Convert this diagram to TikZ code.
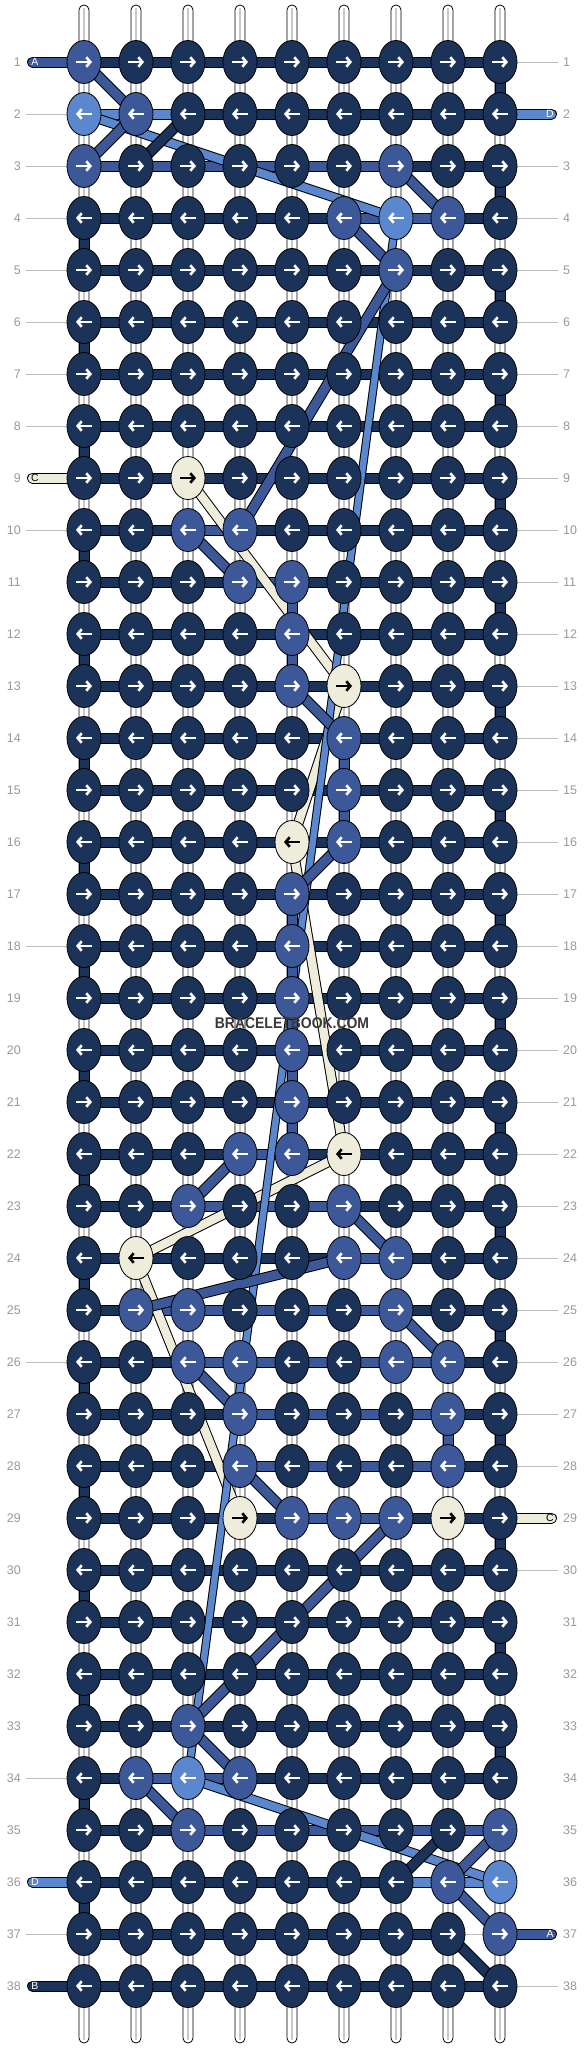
\documentclass[tikz,border=0pt]{standalone}
\usepackage{fontspec}
\setmainfont{Liberation Sans}
\usetikzlibrary{arrows.meta,shapes.geometric,calc}
\definecolor{kN}{HTML}{1B3358}
\definecolor{kM}{HTML}{3C5898}
\definecolor{kL}{HTML}{5A87CE}
\definecolor{kC}{HTML}{EEECDB}
\colorlet{aN}{white}\colorlet{aM}{white}\colorlet{aL}{white}\colorlet{aC}{black}
\definecolor{lbl}{HTML}{9A9A9A}
\definecolor{gln}{HTML}{BDBDBD}
\definecolor{strg}{HTML}{C8C8C8}
\definecolor{wm}{HTML}{383838}
\def\rowdata{%
1/{M,N,N,N,N,N,N,N,N}/{N,N,N,N,N,N,N,N},
2/{L,M,N,N,N,N,N,N,N}/{L,L,N,N,N,N,N,N},
3/{M,N,N,N,N,N,M,N,N}/{M,M,M,M,M,M,N,N},
4/{N,N,N,N,N,M,L,M,N}/{N,N,N,N,N,M,M,N},
5/{N,N,N,N,N,N,M,N,N}/{N,N,N,N,N,N,N,N},
6/{N,N,N,N,N,N,N,N,N}/{N,N,N,N,N,N,N,N},
7/{N,N,N,N,N,N,N,N,N}/{N,N,N,N,N,N,N,N},
8/{N,N,N,N,N,N,N,N,N}/{N,N,N,N,N,N,N,N},
9/{N,N,C,N,N,N,N,N,N}/{N,N,N,N,N,N,N,N},
10/{N,N,M,M,N,N,N,N,N}/{N,N,M,N,N,N,N,N},
11/{N,N,N,M,M,N,N,N,N}/{N,N,N,M,N,N,N,N},
12/{N,N,N,N,M,N,N,N,N}/{N,N,N,N,N,N,N,N},
13/{N,N,N,N,M,C,N,N,N}/{N,N,N,N,N,N,N,N},
14/{N,N,N,N,N,M,N,N,N}/{N,N,N,N,N,N,N,N},
15/{N,N,N,N,N,M,N,N,N}/{N,N,N,N,N,N,N,N},
16/{N,N,N,N,C,M,N,N,N}/{N,N,N,N,N,N,N,N},
17/{N,N,N,N,M,N,N,N,N}/{N,N,N,N,N,N,N,N},
18/{N,N,N,N,M,N,N,N,N}/{N,N,N,N,N,N,N,N},
19/{N,N,N,N,M,N,N,N,N}/{N,N,N,N,N,N,N,N},
20/{N,N,N,N,M,N,N,N,N}/{N,N,N,N,N,N,N,N},
21/{N,N,N,N,M,N,N,N,N}/{N,N,N,N,N,N,N,N},
22/{N,N,N,M,M,C,N,N,N}/{N,N,N,M,N,N,N,N},
23/{N,N,M,N,N,M,N,N,N}/{N,N,M,M,M,N,N,N},
24/{N,C,N,N,N,M,M,N,N}/{N,N,N,N,N,M,N,N},
25/{N,M,M,N,N,N,M,N,N}/{N,M,M,M,M,M,N,N},
26/{N,N,M,M,N,N,M,M,N}/{N,N,M,M,M,M,M,N},
27/{N,N,N,M,N,N,N,M,N}/{N,N,N,M,M,M,M,N},
28/{N,N,N,M,N,N,N,M,N}/{N,N,N,M,M,M,M,N},
29/{N,N,N,C,M,M,M,C,N}/{N,N,N,N,M,M,N,N},
30/{N,N,N,N,N,N,N,N,N}/{N,N,N,N,N,N,N,N},
31/{N,N,N,N,N,N,N,N,N}/{N,N,N,N,N,N,N,N},
32/{N,N,N,N,N,N,N,N,N}/{N,N,N,N,N,N,N,N},
33/{N,N,M,N,N,N,N,N,N}/{N,N,N,N,N,N,N,N},
34/{N,M,L,M,N,N,N,N,N}/{N,M,M,N,N,N,N,N},
35/{N,N,M,N,N,N,N,N,M}/{N,N,M,M,M,M,M,M},
36/{N,N,N,N,N,N,N,M,L}/{N,N,N,N,N,N,L,L},
37/{N,N,N,N,N,N,N,N,M}/{N,N,N,N,N,N,N},
38/{N,N,N,N,N,N,N,N,N}/{N,N,N,N,N,N,N,N}}
\begin{document}
\begin{tikzpicture}[x=1pt,y=-1pt,
  knot/.style={ellipse,draw=black,line width=0.8pt,minimum width=34pt,minimum height=43pt,inner sep=0pt},
  arr/.style={line width=2.6pt,-{Straight Barb[length=4pt,width=9.5pt]}},
  rownum/.style={text=lbl,font=\fontsize{12.5}{12.5}\selectfont,inner sep=0pt},
  taillbl/.style={font=\fontsize{10.5}{10.5}\selectfont,inner sep=0pt},
  gline/.style={draw=gln,line width=0.9pt},
  band/.style n args={3}{draw=#1,line width=#2pt,preaction={draw=black,line width=#3pt}},
  tailband/.style={draw=#1,line width=9pt,line cap=round,preaction={draw=black,line width=11pt,line cap=round}},
]
\useasboundingbox (0,0) rectangle (584,2048);
\fill[white] (0,0) rectangle (584,2048);
% positions
\foreach \r in {1,...,38}{\foreach \c in {1,...,9}{%
  \coordinate (p-\r-\c) at ({84+52*(\c-1)},{62+52*(\r-1)});}}
% base strings
\foreach \c in {1,...,9}{%
  \coordinate (st-\c) at ({84+52*(\c-1)},5);
  \coordinate (sb-\c) at ({84+52*(\c-1)},2043);
  \draw[fill=white,line width=0.8pt,rounded corners=4.9pt] ($(st-\c)+(-5,0)$) rectangle ($(sb-\c)+(5,0)$);
  \draw[draw=strg,line width=2pt] ($(st-\c)+(0,3)$) -- ($(sb-\c)+(0,-3)$);
}
% row numbers and guide lines
\foreach \r in {1,...,38}{%
  \node[rownum,anchor=east] (nl-\r) at (21,{62+52*(\r-1)}) {\r};
  \node[rownum,anchor=west] (nr-\r) at (563,{62+52*(\r-1)}) {\r};
}
\foreach \r in {2,...,8,10,...,35,37}{%
  \coordinate (gl-\r) at (26,{62+52*(\r-1)});
  \draw[gline] (gl-\r) -- (p-\r-1);}
\foreach \r in {1,3,4,...,28,30,...,36,38}{%
  \coordinate (gr-\r) at (558,{62+52*(\r-1)});
  \draw[gline] (p-\r-9) -- (gr-\r);}
\draw[gline] (p-37-8) -- (p-37-9);
% tails
\foreach \r/\tcol/\lab/\lc in {1/kM/A/white,9/kC/C/black,36/kL/D/white,38/kN/B/white}{%
  \coordinate (tl-\r) at (32.5,{62+52*(\r-1)});
  \draw[tailband=\tcol] (tl-\r) -- (p-\r-1);
  \node[taillbl,text=\lc] (tll-\r) at ($(tl-\r)+(2.5,0)$) {\lab};
}
\foreach \r/\tcol/\lab/\lc in {2/kL/D/white,29/kC/C/black,37/kM/A/white}{%
  \coordinate (tr-\r) at (551.5,{62+52*(\r-1)});
  \draw[tailband=\tcol] (p-\r-9) -- (tr-\r);
  \node[taillbl,text=\lc] (trl-\r) at ($(tr-\r)+(-1.5,0)$) {\lab};
}
% horizontal bars
\foreach \r/\kl/\bl in \rowdata {%
  \foreach \b [count=\s] in \bl {%
    \pgfmathtruncatemacro\nx{\s+1}
    \draw[band={k\b}{9}{11}] (p-\r-\s) -- (p-\r-\nx);
  }
}
% edge turns
\foreach \r in {1,3,...,33}{\pgfmathtruncatemacro\nx{\r+1}
  \draw[band={kN}{9}{11}] (p-\r-9) -- (p-\nx-9);}
\foreach \r in {4,6,...,36}{\pgfmathtruncatemacro\nx{\r+1}
  \draw[band={kN}{9}{11}] (p-\r-1) -- (p-\nx-1);}
% thread lines
\foreach \ra/\ca/\rb/\cb/\tcol/\wi/\wo in {%
  9/3/13/6/kC/8.5/10.5, 13/6/16/5/kC/8.5/10.5, 16/5/22/6/kC/8.5/10.5,
  22/6/24/2/kC/8.5/10.5, 24/2/29/4/kC/8.5/10.5,
  2/1/4/7/kL/8/10, 4/7/34/3/kL/6.5/8.5, 34/3/36/9/kL/8/10,
  1/1/2/2/kM/9/11, 2/2/3/1/kM/9/11, 3/7/4/8/kM/9/11, 4/6/5/7/kM/9/11,
  5/7/10/4/kM/9/11, 10/3/11/4/kM/9/11, 13/5/14/6/kM/9/11, 16/6/17/5/kM/9/11,
  22/4/23/3/kM/9/11, 23/6/24/7/kM/9/11, 24/6/25/2/kM/9/11, 25/7/26/8/kM/9/11,
  26/3/27/4/kM/9/11, 28/4/29/5/kM/9/11, 29/7/33/3/kM/9/11, 33/3/34/4/kM/9/11,
  34/2/35/3/kM/9/11, 35/9/36/8/kM/9/11, 36/8/37/9/kM/9/11,
  11/5/12/5/kM/9/11, 12/5/13/5/kM/9/11, 14/6/15/6/kM/9/11, 15/6/16/6/kM/9/11,
  17/5/18/5/kM/9/11, 18/5/19/5/kM/9/11, 19/5/20/5/kM/9/11, 20/5/21/5/kM/9/11,
  21/5/22/5/kM/9/11, 27/8/28/8/kM/9/11,
  2/3/3/2/kN/9/11, 35/8/36/7/kN/9/11, 37/8/38/9/kN/9/11}{%
  \draw[band={\tcol}{\wi}{\wo}] (p-\ra-\ca) -- (p-\rb-\cb);
}
% knots
\foreach \r/\kl/\bl in \rowdata {%
  \pgfmathtruncatemacro\dir{1-2*mod(\r+1,2)}
  \pgfmathsetmacro\ax{-8*\dir}
  \pgfmathsetmacro\bx{8*\dir}
  \foreach \k [count=\c] in \kl {%
    \node[knot,fill=k\k] (k-\r-\c) at (p-\r-\c) {};
    \draw[arr,draw=a\k] ($(k-\r-\c.center)+(\ax,0)$) -- ($(k-\r-\c.center)+(\bx,0)$);
  }
}
\node[font=\bfseries\fontsize{15.5}{15.5}\selectfont,text=wm,inner sep=0pt] (wmk) at (292,1023) {\scalebox{0.9}[1]{BRACELETBOOK.COM}};
\end{tikzpicture}
\end{document}
